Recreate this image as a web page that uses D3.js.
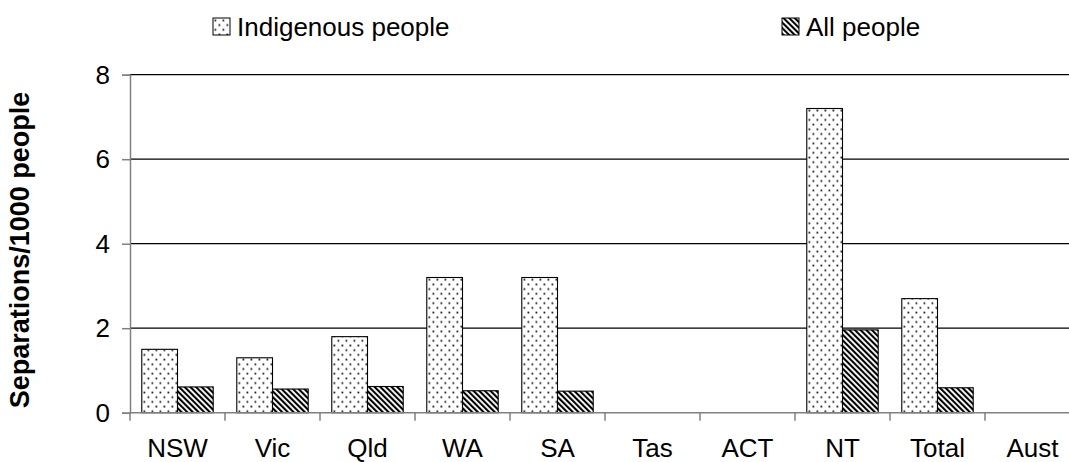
<!DOCTYPE html>
<html>
<head>
<meta charset="utf-8">
<script src="https://cdn.jsdelivr.net/npm/d3@7"></script>
<style>
  body { margin: 0; background: #fff; }
  svg { display: block; font-family: "Liberation Sans", Arial, sans-serif; }
</style>
</head>
<body>
<svg width="1069" height="462"></svg>
<script>
const categories = ['NSW', 'Vic', 'Qld', 'WA', 'SA', 'Tas', 'ACT', 'NT', 'Total', 'Aust'];
const indigenous = [1.5, 1.3, 1.8, 3.2, 3.2, null, null, 7.2, 2.7, null];
const allPeople = [0.61, 0.56, 0.62, 0.52, 0.51, null, null, 1.96, 0.59, null];
const seriesNames = ['Indigenous people', 'All people'];
const yTicks = [0, 2, 4, 6, 8];

const svg = d3.select('svg');

// plot area (right side runs past the window, as in the original)
const plotLeft = 130, plotRight = 1080, plotTop = 74.7, plotBottom = 412.7;

const defs = svg.append('defs');

// dotted fill
const dots = defs.append('pattern')
  .attr('id', 'dots')
  .attr('patternUnits', 'userSpaceOnUse')
  .attr('width', 8).attr('height', 9.4);
dots.append('rect').attr('width', 8).attr('height', 9.4).attr('fill', '#fff');
dots.append('rect').attr('x', 1.5).attr('y', 1.5).attr('width', 1.8).attr('height', 1.8).attr('fill', '#222');
dots.append('rect').attr('x', 5.5).attr('y', 6.2).attr('width', 1.8).attr('height', 1.8).attr('fill', '#222');

// diagonal hatch fill
const hatch = defs.append('pattern')
  .attr('id', 'hatch')
  .attr('patternUnits', 'userSpaceOnUse')
  .attr('width', 4).attr('height', 4)
  .attr('patternTransform', 'rotate(-45)');
hatch.append('rect').attr('width', 4).attr('height', 4).attr('fill', '#fff');
hatch.append('rect').attr('width', 2.1).attr('height', 4).attr('fill', '#000');

const fills = ['url(#dots)', 'url(#hatch)'];

const x = d3.scaleBand().domain(categories).range([plotLeft, plotRight]);
const xInner = d3.scaleBand().domain(seriesNames).range([0, x.bandwidth()])
  .paddingInner(0).paddingOuter(0.33);
const y = d3.scaleLinear().domain([0, 8]).range([plotBottom, plotTop]);

// gridlines
svg.append('g')
  .selectAll('line')
  .data(yTicks.filter(d => d > 0))
  .enter().append('line')
  .attr('x1', plotLeft).attr('x2', plotRight)
  .attr('y1', d => y(d)).attr('y2', d => y(d))
  .attr('stroke', '#000').attr('stroke-width', 1.2);

// bars
const data = categories.map((c, i) => ({ cat: c, vals: [indigenous[i], allPeople[i]] }));
const groups = svg.append('g').selectAll('g')
  .data(data)
  .enter().append('g')
  .attr('transform', d => `translate(${x(d.cat)},0)`);

groups.selectAll('rect')
  .data(d => d.vals.map((v, j) => ({ name: seriesNames[j], v: v, j: j })).filter(e => e.v != null))
  .enter().append('rect')
  .attr('x', d => xInner(d.name))
  .attr('width', xInner.bandwidth())
  .attr('y', d => y(d.v))
  .attr('height', d => y(0) - y(d.v))
  .attr('fill', d => fills[d.j])
  .attr('stroke', '#000')
  .attr('stroke-width', 1.1);

// y axis
const yAxis = svg.append('g')
  .attr('transform', `translate(${plotLeft},0)`)
  .call(d3.axisLeft(y).tickValues(yTicks).tickSize(8).tickPadding(12).tickFormat(d3.format('d')));
yAxis.select('.domain').attr('stroke', '#808080').attr('stroke-width', 1.5);
yAxis.selectAll('.tick line').attr('stroke', '#808080').attr('stroke-width', 1.5);
yAxis.selectAll('.tick text').attr('font-size', 26).attr('fill', '#000')
  .attr('font-family', '"Liberation Sans", Arial, sans-serif');

// x axis: ticks on category boundaries
const xg = svg.append('g');
xg.append('line')
  .attr('x1', plotLeft).attr('x2', plotRight)
  .attr('y1', y(0)).attr('y2', y(0))
  .attr('stroke', '#808080').attr('stroke-width', 1.5);
xg.selectAll('.bound')
  .data(categories)
  .enter().append('line')
  .attr('class', 'bound')
  .attr('x1', d => x(d)).attr('x2', d => x(d))
  .attr('y1', y(0)).attr('y2', y(0) + 8)
  .attr('stroke', '#808080').attr('stroke-width', 1.5);
xg.selectAll('text')
  .data(categories)
  .enter().append('text')
  .attr('x', d => x(d) + x.bandwidth() / 2)
  .attr('y', 457)
  .attr('text-anchor', 'middle')
  .attr('font-size', 26)
  .text(d => d);

// y label
svg.append('text')
  .attr('transform', 'translate(29,250) rotate(-90)')
  .attr('text-anchor', 'middle')
  .attr('font-size', 27)
  .attr('font-weight', 'bold')
  .text('Separations/1000 people');

// legend
const legendX = [213, 782];
const legend = svg.append('g').selectAll('g')
  .data(seriesNames)
  .enter().append('g')
  .attr('transform', (d, i) => `translate(${legendX[i]},18)`);
legend.append('rect')
  .attr('width', 17).attr('height', 17)
  .attr('fill', (d, i) => fills[i])
  .attr('stroke', '#000').attr('stroke-width', 1);
legend.append('text')
  .attr('x', 24).attr('y', 18)
  .attr('font-size', 26)
  .text(d => d);
</script>
</body>
</html>
